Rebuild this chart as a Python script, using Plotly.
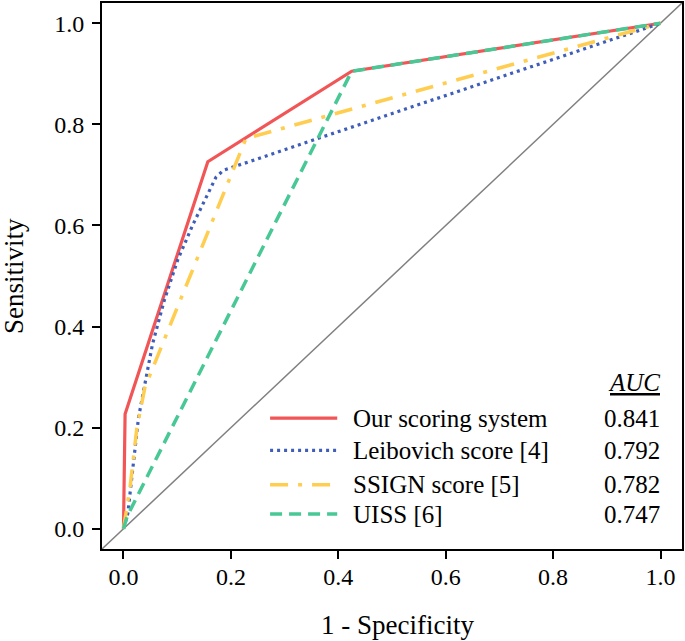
import plotly.graph_objects as go

# ROC curve data
fpr_ours = [0, 0.003, 0.157, 0.425, 1]
tpr_ours = [0, 0.227, 0.726, 0.905, 1]

fpr_leib = [0, 0.008, 0.028, 0.054, 0.076, 0.101, 0.129, 0.154, 0.172, 0.186, 1]
tpr_leib = [0, 0.030, 0.220, 0.365, 0.452, 0.532, 0.601, 0.657, 0.695, 0.709, 1]

fpr_ssign = [0, 0.012, 0.025, 0.040, 0.228, 1]
tpr_ssign = [0, 0.080, 0.200, 0.280, 0.772, 1]

fpr_uiss = [0, 0.007, 0.425, 1]
tpr_uiss = [0, 0.025, 0.905, 1]

diag = [-0.04, 1.04]

names = ["Our scoring system", "Leibovich score [4]", "SSIGN score [5]", "UISS [6]"]
auc_values = ["0.841", "0.792", "0.782", "0.747"]
ticks = [0.0, 0.2, 0.4, 0.6, 0.8, 1.0]
tick_text = ["0.0", "0.2", "0.4", "0.6", "0.8", "1.0"]

colors = ["#F25556", "#3F5EBA", "#FFCD4F", "#47C895"]
dashes = ["solid", "3px,4px", "18px,10px,4px,10px", "12px,7px"]
widths = [3.2, 3.2, 3.5, 3.5]

FONT = "Liberation Serif"

fig = go.Figure()
fig.add_trace(go.Scatter(x=diag, y=diag, mode="lines",
                         line=dict(color="#808080", width=1.5), showlegend=False))

series = [(fpr_ours, tpr_ours), (fpr_leib, tpr_leib), (fpr_ssign, tpr_ssign), (fpr_uiss, tpr_uiss)]
for (xs, ys), c, d, w, n in zip(series, colors, dashes, widths, names):
    fig.add_trace(go.Scatter(x=xs, y=ys, mode="lines", name=n,
                             line=dict(color=c, dash=d, width=w), showlegend=False))

# manual legend
leg_y = [0.219, 0.155, 0.087, 0.029]
shapes = []
annotations = []
for yy, c, d, w, n, a in zip(leg_y, colors, dashes, widths, names, auc_values):
    shapes.append(dict(type="line", xref="x", yref="y", x0=0.273, x1=0.398, y0=yy, y1=yy,
                       line=dict(color=c, dash=d, width=w)))
    annotations.append(dict(x=0.424, y=yy, xref="x", yref="y", text=n, showarrow=False,
                            xanchor="left", yanchor="middle",
                            font=dict(family=FONT, size=25, color="black")))
    annotations.append(dict(x=1.002, y=yy, xref="x", yref="y", text=a, showarrow=False,
                            xanchor="right", yanchor="middle",
                            font=dict(family=FONT, size=25, color="black")))
annotations.append(dict(x=1.002, y=0.29, xref="x", yref="y", text="<i><u>AUC</u></i>",
                        showarrow=False, xanchor="right", yanchor="middle",
                        font=dict(family=FONT, size=25, color="black")))

# axis titles
annotations.append(dict(x=0.511, y=0, xref="x", yref="paper", yshift=-76,
                        text="1 - Specificity", showarrow=False,
                        xanchor="center", yanchor="middle",
                        font=dict(family=FONT, size=27, color="black")))
annotations.append(dict(x=0, y=0.5, xref="paper", yref="paper", xshift=-88,
                        text="Sensitivity", showarrow=False, textangle=-90,
                        xanchor="center", yanchor="middle",
                        font=dict(family=FONT, size=27, color="black")))

axis_common = dict(range=[-0.04, 1.04], tickvals=ticks, ticktext=tick_text,
                   showline=True, mirror=True, linecolor="black", linewidth=2,
                   ticks="outside", ticklen=8, tickwidth=2, tickcolor="black",
                   showgrid=False, zeroline=False, automargin=False,
                   tickfont=dict(family=FONT, size=24, color="black"))

fig.update_layout(
    width=685, height=641,
    margin=dict(l=102, r=3, t=3, b=92),
    font=dict(family=FONT, color="black"),
    paper_bgcolor="white", plot_bgcolor="white",
    xaxis=dict(axis_common, ticklabelstandoff=-3),
    yaxis=dict(axis_common, ticklabelstandoff=3),
    shapes=shapes, annotations=annotations, showlegend=False,
)

fig.write_html("out.html", config={"displayModeBar": False},
               post_script="document.body.style.margin='0';document.body.style.overflow='hidden';")
